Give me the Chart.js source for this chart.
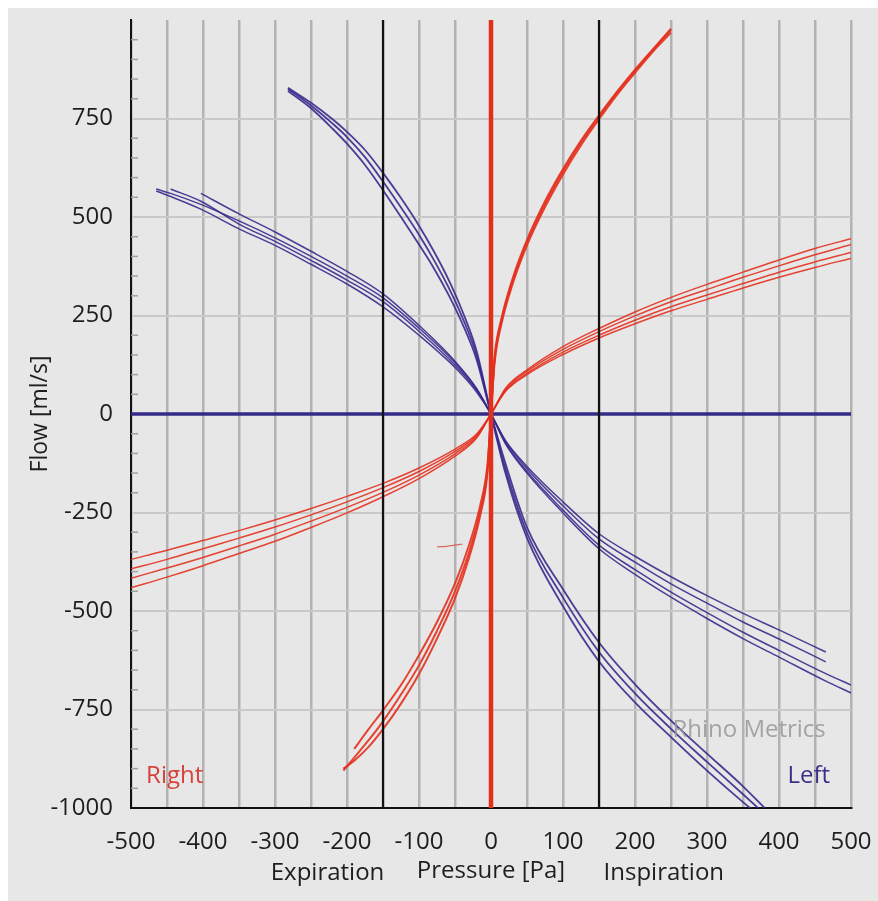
<!DOCTYPE html>
<html>
<head>
<meta charset="utf-8">
<script src="https://cdn.jsdelivr.net/npm/chart.js@4"></script>
<style>
  html, body { margin: 0; padding: 0; background: #e7e7e7; overflow: hidden; }
  #wrap { width: 878px; height: 901px; }
  canvas { display: block; }
</style>
</head>
<body>
<div id="wrap"><canvas id="chart" width="878" height="901"></canvas></div>
<script>
// Pressure [Pa] vs Flow [ml/s]
const xTicks = [-500, -400, -300, -200, -100, 0, 100, 200, 300, 400, 500];
const yTicks = [-1000, -750, -500, -250, 0, 250, 500, 750];
const markerPressures = [-150, 150];

// Right side (red), steep loop
const rightSteepX = [-205, -190, -170, -150, -125, -100, -75, -50, -30, -15, -5, 0, 5, 15, 30, 50, 75, 100, 125, 150, 175, 200, 225, 250];
const rightSteepY1 = [-905, -872, -828, -780, -712, -638, -550, -450, -348, -246, -142, 0, 138, 239, 337, 436, 533, 616, 689, 754, 815, 871, 924, 975];
const rightSteepY2 = [null, -850, -800, -752, -688, -612, -528, -430, -330, -232, -130, 0, 130, 232, 330, 428, 525, 608, 682, 748, 810, 866, 920, 968];
const rightSteepY3 = [-900, -880, -845, -800, -735, -660, -570, -468, -362, -258, -150, 0, 145, 246, 344, 442, 540, 622, 694, 758, 818, 874, 926, 978];
// small tail near (-60,-335)
const rightTailX = [-75, -62, -50, -40];
const rightTailY = [-337, -336, -333, -330];

// Right side (red), flat loops
const rightFlatX = [-500, -450, -400, -350, -300, -250, -200, -150, -100, -50, -20, 0, 20, 50, 100, 150, 200, 250, 300, 350, 400, 450, 500];
const rightFlatY1 = [-369, -346, -321, -296, -269, -240, -209, -176, -137, -89, -51, 0, 65, 112, 171, 217, 259, 296, 329, 360, 391, 420, 445];
const rightFlatY2 = [-393, -369, -342, -315, -287, -256, -223, -187, -146, -95, -54, 0, 62, 108, 164, 209, 249, 285, 316, 347, 376, 404, 430];
const rightFlatY3 = [-417, -391, -364, -335, -305, -272, -237, -199, -155, -101, -58, 0, 59, 103, 157, 200, 238, 272, 302, 331, 360, 386, 410];
const rightFlatY4 = [-441, -414, -385, -354, -323, -288, -251, -210, -164, -107, -61, 0, 57, 100, 151, 193, 229, 262, 291, 320, 347, 372, 395];

// Left side (blue), steep loops
const leftSteepX = [-282, -250, -220, -200, -175, -150, -125, -100, -80, -60, -40, -20, 0, 20, 50, 100, 150, 200, 250, 300, 350, 380];
const leftSteepY1 = [828, 790, 748, 716, 670, 612, 548, 478, 415, 345, 262, 160, 0, -150, -315, -488, -628, -732, -820, -905, -985, -1030];
const leftSteepY2 = [820, 776, 724, 686, 632, 568, 500, 430, 372, 306, 230, 138, 0, -125, -288, -445, -580, -686, -778, -862, -945, -1000];
const leftSteepY3 = [825, 783, 737, 703, 652, 590, 524, 455, 393, 325, 246, 149, 0, -138, -302, -466, -604, -709, -799, -883, -965, -1015];

// Left side (blue), flat loops
const leftFlatX = [-465, -445, -403, -350, -300, -250, -200, -150, -100, -50, -20, 0, 20, 50, 100, 150, 200, 250, 300, 350, 400, 465, 500];
const leftFlatY1 = [571, 560, 532, 490, 447, 400, 350, 295, 218, 130, 63, 0, -67, -133, -223, -304, -361, -413, -461, -506, -548, -604, null];
const leftFlatY2 = [null, 571, 540, 482, 438, 390, 340, 285, 210, 124, 60, 0, -69, -139, -233, -317, -376, -431, -480, -528, -571, -629, null];
const leftFlatY3 = [null, null, 560, 508, 462, 413, 362, 305, 225, 134, 65, 0, -73, -146, -244, -333, -395, -452, -504, -554, -600, -659, -688];
const leftFlatY4 = [566, 552, 520, 470, 428, 380, 330, 272, 200, 118, 56, 0, -75, -150, -251, -342, -407, -465, -519, -570, -617, -678, -708];

const RED = 'rgba(228, 48, 30, 0.9)';
const BLUE = 'rgba(56, 42, 140, 0.9)';
const FONT = '"Open Sans", "Noto Sans", sans-serif';

const toPoints = (xs, ys) => xs.map((x, i) => ({ x: x, y: ys[i] }));

function curve(xs, ys, color, width) {
    return {
        data: toPoints(xs, ys),
        borderColor: color,
        borderWidth: width || 1.8,
        pointRadius: 0,
        tension: 0.35,
        cubicInterpolationMode: 'monotone',
        fill: false,
        order: 5
    };
}

const yMin = yTicks[0];
const yMax = 1000;

const datasets = [];
// reference lines
markerPressures.forEach(p => {
    datasets.push({
        data: [{ x: p, y: yMin }, { x: p, y: yMax }],
        borderColor: '#111', borderWidth: 2.2, pointRadius: 0, order: 0
    });
});
datasets.push({
    data: [{ x: 0, y: yMin }, { x: 0, y: yMax }],
    borderColor: '#e2301f', borderWidth: 4.5, pointRadius: 0, order: 1,
    borderCapStyle: 'round'
});
datasets.push({
    data: [{ x: xTicks[0], y: 0 }, { x: xTicks[xTicks.length - 1], y: 0 }],
    borderColor: '#352a88', borderWidth: 3.5, pointRadius: 0, order: 2
});
// measured loops
[rightSteepY1, rightSteepY2, rightSteepY3].forEach(ys => datasets.push(curve(rightSteepX, ys, RED, 2)));
datasets.push(curve(rightTailX, rightTailY, 'rgba(210, 80, 60, 0.8)', 1.3));
[rightFlatY1, rightFlatY2, rightFlatY3, rightFlatY4].forEach(ys => datasets.push(curve(rightFlatX, ys, RED, 1.5)));
[leftSteepY1, leftSteepY2, leftSteepY3].forEach(ys => datasets.push(curve(leftSteepX, ys, BLUE, 1.8)));
[leftFlatY1, leftFlatY2, leftFlatY3, leftFlatY4].forEach(ys => datasets.push(curve(leftFlatX, ys, BLUE, 1.5)));

// background, minor ticks and text labels
const decor = {
    id: 'decor',
    beforeDraw(chart) {
        const ctx = chart.ctx;
        ctx.save();
        ctx.fillStyle = '#ffffff';
        ctx.fillRect(0, 0, chart.width, chart.height);
        ctx.fillStyle = '#e7e7e7';
        ctx.fillRect(8, 8, chart.width - 8, chart.height - 8);
        ctx.restore();
    },
    afterDatasetsDraw(chart) {
        const ctx = chart.ctx;
        const xs = chart.scales.x, ys = chart.scales.y;
        const area = chart.chartArea;
        ctx.save();
        // minor ticks on the flow axis
        ctx.strokeStyle = '#a0a0a0';
        ctx.lineWidth = 1.5;
        for (let v = yMin + 50; v < yMax; v += 50) {
            if (v % 250 === 0) continue;
            const py = ys.getPixelForValue(v);
            ctx.beginPath();
            ctx.moveTo(area.left, py);
            ctx.lineTo(area.left + 7, py);
            ctx.stroke();
        }
        ctx.font = '24px ' + FONT;
        ctx.textBaseline = 'middle';
        ctx.fillStyle = 'rgba(150, 150, 150, 0.85)';
        ctx.textAlign = 'right';
        ctx.fillText('Rhino Metrics', xs.getPixelForValue(465), ys.getPixelForValue(-802));
        ctx.fillStyle = '#d8413a';
        ctx.textAlign = 'left';
        ctx.fillText('Right', xs.getPixelForValue(-479), ys.getPixelForValue(-919));
        ctx.fillStyle = '#3a2f8a';
        ctx.textAlign = 'right';
        ctx.fillText('Left', xs.getPixelForValue(471), ys.getPixelForValue(-919));
        // side captions next to the pressure title
        ctx.fillStyle = '#1e1e1e';
        ctx.textAlign = 'center';
        const ty = xs.bottom - 15 - 13;
        ctx.fillText('Expiration', xs.getPixelForValue(-227), ty);
        ctx.fillText('Inspiration', xs.getPixelForValue(240), ty);
        ctx.restore();
    }
};

new Chart(document.getElementById('chart'), {
    type: 'line',
    data: { datasets: datasets },
    options: {
        responsive: false,
        animation: false,
        events: [],
        layout: { padding: { top: 20, right: 27, left: 0, bottom: 0 } },
        plugins: {
            legend: { display: false },
            tooltip: { enabled: false }
        },
        scales: {
            x: {
                type: 'linear',
                min: xTicks[0],
                max: xTicks[xTicks.length - 1],
                afterFit: scale => {
                    scale.height = 93;
                    scale.paddingLeft = 0;
                    scale.paddingRight = 0;
                },
                ticks: {
                    stepSize: 50,
                    autoSkip: false,
                    maxRotation: 0,
                    padding: 20,
                    color: '#1e1e1e',
                    font: { family: FONT, size: 24 },
                    callback: v => (xTicks.includes(v) ? String(v) : '')
                },
                grid: {
                    color: '#b3b3b3',
                    lineWidth: 2.5,
                    drawTicks: false
                },
                border: { color: '#111', width: 2 },
                title: {
                    display: true,
                    text: 'Pressure [Pa]',
                    color: '#1e1e1e',
                    font: { family: FONT, size: 24 },
                    padding: { top: 0, bottom: 15 }
                }
            },
            y: {
                type: 'linear',
                min: yMin,
                max: yMax,
                afterFit: scale => {
                    scale.width = 131;
                    scale.paddingTop = 0;
                    scale.paddingBottom = 0;
                },
                ticks: {
                    stepSize: 250,
                    padding: 18,
                    color: '#1e1e1e',
                    font: { family: FONT, size: 24 },
                    callback: v => (yTicks.includes(v) ? String(v) : '')
                },
                grid: {
                    color: ctx => (ctx.tick && ctx.tick.value === yMax ? 'rgba(0,0,0,0)' : '#c9c9c9'),
                    lineWidth: 2,
                    drawTicks: false
                },
                border: { color: '#111', width: 2 },
                title: {
                    display: true,
                    text: 'Flow [ml/s]',
                    color: '#1e1e1e',
                    font: { family: FONT, size: 23 },
                    padding: { top: 27, bottom: 0 }
                }
            }
        }
    },
    plugins: [decor]
});
</script>
</body>
</html>
